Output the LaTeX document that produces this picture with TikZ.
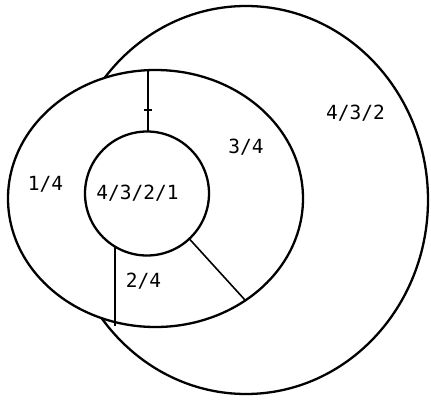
\documentclass[tikz,border=0pt]{standalone}
\usepackage{fontspec}
\setmonofont{DejaVu Sans Mono}
\begin{document}
\begin{tikzpicture}[x=1pt,y=-1pt,
  outline/.style={line width=2.3pt,black},
  thin/.style={line width=1.6pt,black},
  lbl/.style={font=\ttfamily\fontsize{19.5}{22}\selectfont,inner sep=0pt}]
\useasboundingbox (0,0) rectangle (431,399);
% big outer ellipse (only visible outside the middle ellipse)
\draw[outline] (246,200) ellipse [x radius=182, y radius=194];
\fill[white] (155.5,198.5) ellipse [x radius=147.5, y radius=128.5];
% middle ellipse
\draw[outline] (155.5,198.5) ellipse [x radius=147.5, y radius=128.5];
% inner circle
\draw[outline] (147,193.5) circle [radius=62];
% connector end points
\coordinate (midtop) at (148,71);
\coordinate (intop) at (148,132);
\coordinate (tickl) at (144,110);
\coordinate (tickr) at (152,110);
\coordinate (inbl) at (115,246.5);
\coordinate (midbl) at (115,326);
\coordinate (inbr) at (189.3,238.8);
\coordinate (midbr) at (245,300);
\draw[outline] (midtop) -- (intop);
\draw[thin] (tickl) -- (tickr);
\draw[outline] (inbl) -- (midbl);
\draw[thin] (inbr) -- (midbr);
% labels
\node[lbl] (a) at (355.5,113) {4/3/2};
\node[lbl] (b) at (246,147) {3/4};
\node[lbl] (c) at (45.5,184) {1/4};
\node[lbl] (d) at (137.5,193) {4/3/2/1};
\node[lbl] (e) at (143.5,281) {2/4};
\end{tikzpicture}
\end{document}
